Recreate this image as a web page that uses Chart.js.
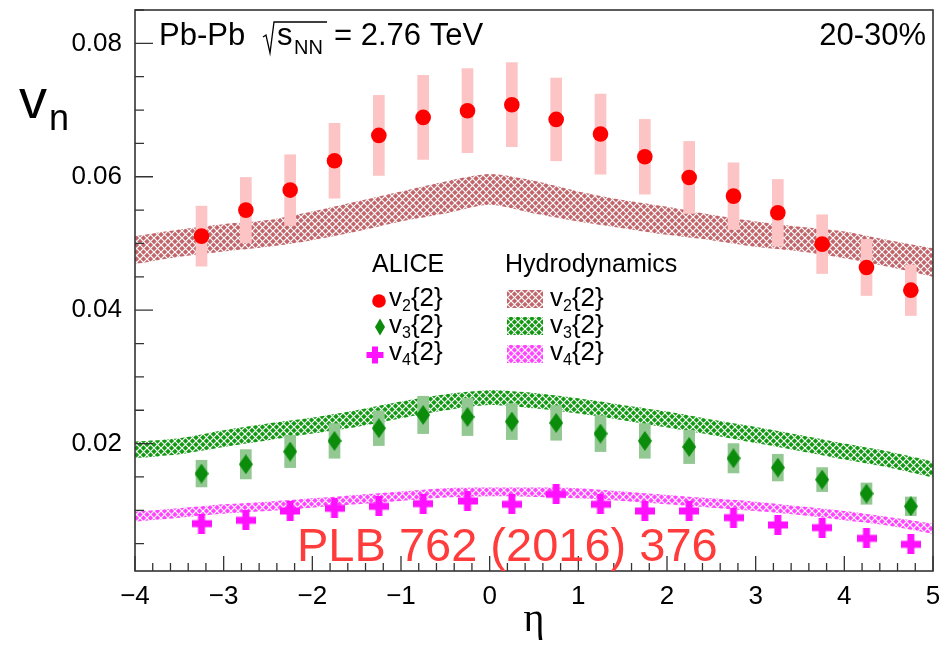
<!DOCTYPE html>
<html>
<head>
<meta charset="utf-8">
<script src="https://cdn.jsdelivr.net/npm/chart.js@4.4.0/dist/chart.umd.min.js"></script>
<style>
  html, body { margin: 0; padding: 0; background: #fff; }
  #wrap { width: 948px; height: 646px; }
</style>
</head>
<body>
<div id="wrap"><canvas id="vn-chart" width="948" height="646"></canvas></div>
<script>
// ALICE points, eta bin centres
const etaBins = [-3.25, -2.75, -2.25, -1.75, -1.25, -0.75, -0.25, 0.25, 0.75, 1.25, 1.75, 2.25, 2.75, 3.25, 3.75, 4.25, 4.75];
const v2Data = [0.0511, 0.0550, 0.0580, 0.0624, 0.0662, 0.0689, 0.0699, 0.0708, 0.0686, 0.0664, 0.0630, 0.0599, 0.0571, 0.0546, 0.0499, 0.0464, 0.0430];
const v2Sys  = [0.0045, 0.0049, 0.0053, 0.0056, 0.0060, 0.0063, 0.0063, 0.0063, 0.0062, 0.0060, 0.0056, 0.0054, 0.0050, 0.0050, 0.0044, 0.0042, 0.0038];
const v3Data = [0.0155, 0.0169, 0.0188, 0.0204, 0.0223, 0.0243, 0.0240, 0.0233, 0.0231, 0.0215, 0.0204, 0.0195, 0.0178, 0.0164, 0.0146, 0.0125, 0.0106];
const v3Sys  = [0.0020, 0.0022, 0.0024, 0.0026, 0.0026, 0.0028, 0.0028, 0.0027, 0.0026, 0.0027, 0.0026, 0.0025, 0.0022, 0.0020, 0.0018, 0.0016, 0.0014];
const v4Data = [0.0080, 0.0085, 0.0099, 0.0103, 0.0106, 0.0110, 0.0114, 0.0109, 0.0124, 0.0109, 0.0099, 0.0099, 0.0089, 0.0078, 0.0074, 0.0058, 0.0049];

// hydro bands, sampled every 0.5 in eta
const etaHydro  = [-4, -3.5, -3, -2.5, -2, -1.5, -1, -0.5, 0, 0.5, 1, 1.5, 2, 2.5, 3, 3.5, 4, 4.5, 5];
const v2HydroHi = [0.0511, 0.0521, 0.0529, 0.0535, 0.0548, 0.0563, 0.0578, 0.0593, 0.0604, 0.0594, 0.0578, 0.0565, 0.0555, 0.0543, 0.0533, 0.0525, 0.0518, 0.0505, 0.0493];
const v2HydroLo = [0.0469, 0.0480, 0.0488, 0.0495, 0.0505, 0.0518, 0.0533, 0.0545, 0.0558, 0.0545, 0.0533, 0.0523, 0.0513, 0.0505, 0.0495, 0.0488, 0.0478, 0.0465, 0.0450];
const v3HydroHi = [0.0203, 0.0208, 0.0220, 0.0230, 0.0239, 0.0250, 0.0263, 0.0274, 0.0280, 0.0276, 0.0268, 0.0258, 0.0248, 0.0236, 0.0225, 0.0213, 0.0200, 0.0188, 0.0173];
const v3HydroLo = [0.0178, 0.0184, 0.0195, 0.0205, 0.0215, 0.0225, 0.0238, 0.0250, 0.0258, 0.0253, 0.0245, 0.0235, 0.0224, 0.0213, 0.0201, 0.0189, 0.0176, 0.0164, 0.0149];
const v4HydroHi = [0.0098, 0.0103, 0.0109, 0.0113, 0.0118, 0.0123, 0.0128, 0.0133, 0.0134, 0.0134, 0.0133, 0.0128, 0.0123, 0.0118, 0.0113, 0.0106, 0.0099, 0.0090, 0.0080];
const v4HydroLo = [0.0083, 0.0089, 0.0095, 0.0099, 0.0104, 0.0109, 0.0114, 0.0119, 0.0121, 0.0120, 0.0118, 0.0114, 0.0109, 0.0104, 0.0099, 0.0093, 0.0085, 0.0077, 0.0065];

const xTickLabels = [-4, -3, -2, -1, 0, 1, 2, 3, 4, 5];
const yTickLabels = [0.02, 0.04, 0.06, 0.08];

const FONT = "'Liberation Sans', Arial, sans-serif";
Chart.defaults.font.family = FONT;
Chart.defaults.color = '#000';

const colV2 = '#ff0000', colV3 = '#0b8c0b', colV4 = '#ff11ff';
const bandV2 = '#c2656b', bandV3 = '#129912', bandV4 = '#ff44ff';

// cross-hatch fill like ROOT's band style
function hatch(color) {
  const c = document.createElement('canvas');
  c.width = 7; c.height = 7;
  const g = c.getContext('2d');
  g.fillStyle = color;
  g.fillRect(0, 0, 7, 7);
  g.strokeStyle = '#fff';
  g.lineWidth = 1.2;
  g.beginPath();
  g.moveTo(-1, -1); g.lineTo(8, 8);
  g.moveTo(8, -1); g.lineTo(-1, 8);
  g.stroke();
  return g.createPattern(c, 'repeat');
}

function drawDiamond(g, cx, cy, w, h, color) {
  g.fillStyle = color;
  g.beginPath();
  g.moveTo(cx, cy - h / 2);
  g.lineTo(cx + w / 2, cy);
  g.lineTo(cx, cy + h / 2);
  g.lineTo(cx - w / 2, cy);
  g.closePath();
  g.fill();
}

function drawCross(g, cx, cy, size, thick, color) {
  g.fillStyle = color;
  g.fillRect(cx - thick / 2, cy - size / 2, thick, size);
  g.fillRect(cx - size / 2, cy - thick / 2, size, thick);
}

function markerCanvas(w, h, paint) {
  const c = document.createElement('canvas');
  c.width = w; c.height = h;
  paint(c.getContext('2d'));
  return c;
}

const diamondImg = markerCanvas(14, 20, g => drawDiamond(g, 7, 10, 14, 20, colV3));
const crossImg = markerCanvas(20, 20, g => drawCross(g, 10, 10, 20, 7, colV4));

const pts = (xs, ys) => xs.map((x, i) => ({ x: x, y: ys[i] }));
const boxes = (xs, ys, es) => xs.map((x, i) => ({ x: x, y: [ys[i] - es[i], ys[i] + es[i]] }));

function band(hi, lo, color) {
  const line = { type: 'line', pointRadius: 0, borderWidth: 0, tension: 0.25, order: 3 };
  return [
    Object.assign({}, line, { data: pts(etaHydro, hi), fill: false }),
    Object.assign({}, line, { data: pts(etaHydro, lo), fill: '-1', backgroundColor: hatch(color) })
  ];
}

// v_n with subscript and {2}
function vLabel(g, x, y, sub, size) {
  g.textAlign = 'left';
  g.textBaseline = 'alphabetic';
  g.font = size + 'px ' + FONT;
  g.fillText('v', x, y);
  x += g.measureText('v').width;
  g.font = Math.round(size * 0.62) + 'px ' + FONT;
  g.fillText(sub, x, y + size * 0.2);
  x += g.measureText(sub).width;
  g.font = size + 'px ' + FONT;
  g.fillText('{2}', x, y);
}

const decorations = {
  id: 'decorations',
  afterDraw(chart) {
    const g = chart.ctx;
    const a = chart.chartArea;
    const xs = chart.scales.x, ys = chart.scales.y;
    g.save();

    // frame
    g.strokeStyle = '#333';
    g.lineWidth = 1.6;
    g.strokeRect(a.left, a.top, a.right - a.left, a.bottom - a.top);

    // inward ticks on left and bottom
    g.lineWidth = 1.3;
    g.beginPath();
    for (let k = -20; k <= 25; k++) {
      const px = xs.getPixelForValue(k / 5);
      const len = k % 5 === 0 ? 15 : 8;
      g.moveTo(px, a.bottom); g.lineTo(px, a.bottom - len);
    }
    for (let k = 1; k <= 17; k++) {
      const py = ys.getPixelForValue(k * 0.005);
      const len = k % 4 === 0 ? 18 : 9;
      g.moveTo(a.left, py); g.lineTo(a.left + len, py);
    }
    g.stroke();

    // header texts
    g.fillStyle = '#000';
    g.textBaseline = 'alphabetic';
    g.font = '31px ' + FONT;
    g.textAlign = 'left';
    g.fillText('Pb-Pb', 159, 45);
    g.strokeStyle = '#000';
    g.lineWidth = 1.3;
    g.beginPath();
    g.moveTo(263, 37); g.lineTo(266, 35); g.lineTo(270, 53); g.lineTo(274, 22); g.lineTo(327, 22);
    g.stroke();
    g.fillText('s', 277, 45);
    g.font = '20px ' + FONT;
    g.fillText('NN', 294, 54);
    g.font = '31px ' + FONT;
    g.fillText('= 2.76 TeV', 334, 45);
    g.textAlign = 'right';
    g.fillText('20-30%', 926, 45);

    // y axis label
    g.textAlign = 'left';
    g.font = '56px ' + FONT;
    g.fillText('v', 19, 118);
    g.font = '36px ' + FONT;
    g.fillText('n', 49, 130);

    // legend
    g.font = '25px ' + FONT;
    g.fillText('ALICE', 372, 272);
    g.fillText('Hydrodynamics', 505, 272);
    g.fillStyle = colV2;
    g.beginPath(); g.arc(379, 301, 6.8, 0, Math.PI * 2); g.fill();
    drawDiamond(g, 380, 327, 10, 17, colV3);
    drawCross(g, 375, 355, 17, 6, colV4);
    g.fillStyle = '#000';
    vLabel(g, 389, 306, '2', 26);
    vLabel(g, 389, 333, '3', 26);
    vLabel(g, 389, 360, '4', 26);
    [[bandV2, 290], [bandV3, 317], [bandV4, 345]].forEach(([c, y]) => {
      g.fillStyle = hatch(c);
      g.fillRect(507, y, 36, 18);
    });
    g.fillStyle = '#000';
    vLabel(g, 550, 306, '2', 26);
    vLabel(g, 550, 333, '3', 26);
    vLabel(g, 550, 360, '4', 26);

    // reference
    g.fillStyle = '#ff3b3b';
    g.font = '47px ' + FONT;
    g.fillText('PLB 762 (2016) 376', 297, 561);

    g.restore();
  }
};

const fmtX = v => (v < 0 ? '\u2212' + Math.abs(v) : String(v));

new Chart(document.getElementById('vn-chart'), {
  type: 'scatter',
  data: {
    datasets: [
      ...band(v2HydroHi, v2HydroLo, bandV2),
      ...band(v3HydroHi, v3HydroLo, bandV3),
      ...band(v4HydroHi, v4HydroLo, bandV4),
      { type: 'bar', data: boxes(etaBins, v2Data, v2Sys), backgroundColor: '#fcc4c4',
        barThickness: 11, grouped: false, order: 2 },
      { type: 'bar', data: boxes(etaBins, v3Data, v3Sys), backgroundColor: '#93c893',
        barThickness: 11, grouped: false, order: 2 },
      { data: pts(etaBins, v2Data), pointStyle: 'circle', pointRadius: 7.8,
        backgroundColor: colV2, borderWidth: 0, order: 1 },
      { data: pts(etaBins, v3Data), pointStyle: diamondImg, order: 1 },
      { data: pts(etaBins, v4Data), pointStyle: crossImg, order: 1 }
    ]
  },
  options: {
    responsive: false,
    animation: false,
    events: [],
    layout: { padding: { top: 10, right: 15, left: 0, bottom: 0 } },
    plugins: { legend: { display: false }, tooltip: { enabled: false } },
    scales: {
      x: {
        type: 'linear', min: -4, max: 5, offset: false,
        grid: { display: false, drawTicks: false },
        border: { display: false },
        afterBuildTicks: s => { s.ticks = xTickLabels.map(v => ({ value: v })); },
        afterFit: s => { s.height = 75; s.paddingLeft = 0; s.paddingRight = 0; },
        ticks: { padding: 10, maxRotation: 0, autoSkip: false, font: { size: 26 }, callback: v => fmtX(v) },
        title: { display: true, text: 'η', font: { family: "'Liberation Serif', serif", size: 40 },
                 padding: { top: 0, bottom: 2 } }
      },
      y: {
        type: 'linear', min: 0.0009, max: 0.085,
        grid: { display: false, drawTicks: false },
        border: { display: false },
        afterBuildTicks: s => { s.ticks = yTickLabels.map(v => ({ value: v })); },
        afterFit: s => { s.width = 135; s.paddingTop = 0; s.paddingBottom = 0; },
        ticks: { padding: 13, font: { size: 26 }, callback: v => v.toFixed(2) }
      }
    }
  },
  plugins: [decorations]
});
</script>
</body>
</html>
